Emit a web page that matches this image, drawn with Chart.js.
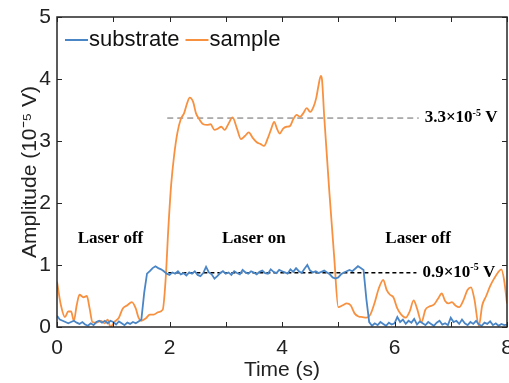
<!DOCTYPE html>
<html>
<head>
<meta charset="utf-8">
<script src="https://cdn.jsdelivr.net/npm/chart.js@4/dist/chart.umd.min.js"></script>
<style>
  html, body { margin: 0; padding: 0; background: #fff; }
  #wrap { width: 509px; height: 383px; }
</style>
</head>
<body>
<div id="wrap"><canvas id="ampChart"></canvas></div>
<script>
// substrate signal, sampled every 0.05 s from 0 to 8 s
const substrateStep = 0.05;
const substrateAmp = [
  0.18, 0.12, 0.10, 0.08, 0.06, 0.08, 0.10, 0.07, 0.05, 0.08, 0.04, 0.02, 0.06, 0.03, 0.08, 0.10, 0.07, 0.10, 0.06, 0.10,
  0.08, 0.04, 0.09, 0.06, 0.03, 0.07, 0.05, 0.08, 0.06, 0.09, 0.12, 0.55, 0.86, 0.90, 0.95, 0.98, 0.95, 0.93, 0.90, 0.86,
  0.84, 0.88, 0.86, 0.90, 0.85, 0.87, 0.83, 0.88, 0.86, 0.90, 0.84, 0.82, 0.87, 0.97, 0.88, 0.85, 0.78, 0.82, 0.87, 0.90,
  0.86, 0.88, 0.84, 0.90, 0.87, 0.85, 0.92, 0.88, 0.86, 0.90, 0.88, 0.85, 0.89, 0.91, 0.87, 0.86, 0.93, 0.89, 0.87, 0.92,
  0.90, 0.88, 0.86, 0.93, 0.89, 0.95, 0.90, 0.87, 0.94, 1.00, 0.91, 0.88, 0.90, 0.87, 0.89, 0.91, 0.88, 0.85, 0.80, 0.78,
  0.80, 0.85, 0.88, 0.90, 0.92, 0.90, 0.94, 0.98, 0.95, 0.92, 0.45, 0.08, 0.02, 0.06, 0.03, 0.08, 0.05, 0.02, 0.07, 0.04,
  0.06, 0.16, 0.08, 0.12, 0.05, 0.10, 0.07, 0.13, 0.04, 0.09, 0.06, 0.03, 0.08, 0.05, 0.02, 0.07, 0.10, 0.04, 0.06, 0.03,
  0.15, 0.08, 0.10, 0.05, 0.12, 0.06, 0.03, 0.08, 0.05, 0.10, 0.04, 0.02, 0.07, 0.05, 0.09, 0.03, 0.06, 0.02, 0.05, 0.03,
  0.04
];

// sample signal (smoothed), irregular time points
const sampleTime = [
  0, 0.07, 0.14, 0.2, 0.25, 0.3, 0.35, 0.4, 0.47, 0.53, 0.58, 0.63, 0.7, 0.78, 0.85, 0.9, 0.95, 1.02, 1.1, 1.17,
  1.25, 1.33, 1.4, 1.45, 1.5, 1.58, 1.65, 1.72, 1.8, 1.88, 1.93, 1.98, 2.03, 2.08, 2.14, 2.2, 2.26, 2.31, 2.36, 2.42,
  2.47, 2.53, 2.6, 2.67, 2.73, 2.8, 2.86, 2.92, 2.98, 3.05, 3.12, 3.2, 3.27, 3.34, 3.41, 3.48, 3.55, 3.62, 3.68, 3.75,
  3.81, 3.86, 3.91, 3.96, 4.02, 4.08, 4.14, 4.2, 4.26, 4.32, 4.38, 4.44, 4.5, 4.56, 4.61, 4.65, 4.69, 4.71, 4.75, 4.84,
  4.93, 5.0, 5.08, 5.15, 5.22, 5.29, 5.36, 5.43, 5.5, 5.57, 5.65, 5.72, 5.8, 5.86, 5.92, 5.98, 6.05, 6.12, 6.2, 6.27,
  6.34, 6.4, 6.48, 6.55, 6.62, 6.7, 6.77, 6.84, 6.9, 6.96, 7.02, 7.08, 7.15, 7.22, 7.3, 7.36, 7.42, 7.5, 7.56, 7.63,
  7.7, 7.77, 7.84, 7.9, 7.95, 8.0
];
const sampleAmp = [
  0.73, 0.35, 0.16, 0.25, 0.25, 0.10, 0.35, 0.52, 0.48, 0.50, 0.30, 0.08, 0.07, 0.10, 0.06, 0.12, 0.00, 0.08, 0.15, 0.30,
  0.35, 0.40, 0.30, 0.15, 0.10, 0.14, 0.20, 0.20, 0.24, 0.28, 0.75, 1.60, 2.30, 2.75, 3.13, 3.35, 3.45, 3.60, 3.70, 3.63,
  3.45, 3.35, 3.27, 3.26, 3.27, 3.18, 3.20, 3.23, 3.18, 3.28, 3.38, 3.20, 3.03, 3.08, 3.14, 3.05, 2.98, 2.95, 2.92, 3.05,
  3.20, 3.31, 3.20, 3.12, 3.20, 3.23, 3.24, 3.35, 3.42, 3.39, 3.45, 3.53, 3.47, 3.55, 3.70, 3.90, 4.05, 4.00, 3.40, 2.20,
  1.10, 0.32, 0.35, 0.38, 0.35, 0.22, 0.17, 0.16, 0.15, 0.20, 0.40, 0.62, 0.76, 0.60, 0.52, 0.48, 0.30, 0.20, 0.15, 0.25,
  0.43, 0.30, 0.08, 0.28, 0.33, 0.36, 0.45, 0.54, 0.42, 0.38, 0.40, 0.35, 0.32, 0.42, 0.60, 0.64, 0.45, 0.02, 0.35, 0.50,
  0.66, 0.78, 0.88, 0.93, 0.75, 0.38
];

// mean levels with the laser on
const sampleLevel = { from: 1.96, to: 6.43, value: 3.37, label: '3.3×10', exp: '-5', unit: ' V' };
const substrateLevel = { from: 1.98, to: 6.39, value: 0.876, label: '0.9×10', exp: '-5', unit: ' V' };

const regionLabels = ['Laser off', 'Laser on', 'Laser off'];
const regionX = [0.95, 3.5, 6.42];
const regionY = 1.43;

const xTicks = [0, 2, 4, 6, 8];
const yTicks = [0, 1, 2, 3, 4, 5];

const BLUE = '#4a86c6';
const ORANGE = '#f8913f';
const AXIS = '#262626';
const SANS = '"Liberation Sans", Arial';

const substratePts = substrateAmp.map((v, i) => ({ x: +(i * substrateStep).toFixed(2), y: v }));
const samplePts = sampleTime.map((t, i) => ({ x: t, y: sampleAmp[i] }));

// drop the label overhang so the plot box reaches the canvas edges
function noOverhang(s) {
  s.paddingLeft = 0;
  s.paddingRight = 0;
  s.paddingTop = 0;
  s.paddingBottom = 0;
}

// full box with inward ticks, legend and the level annotations
const framePlugin = {
  id: 'frame',
  afterDatasetsDraw(chart) {
    const { ctx, chartArea: a, scales: { x, y } } = chart;
    ctx.save();
    ctx.strokeStyle = AXIS;
    ctx.lineWidth = 1.5;
    ctx.strokeRect(a.left, a.top, a.right - a.left, a.bottom - a.top);
    ctx.lineWidth = 1;
    const tl = 5;
    for (let t = 0; t <= 8; t++) {
      const px = Math.round(x.getPixelForValue(t)) + 0.5;
      ctx.beginPath();
      ctx.moveTo(px, a.bottom); ctx.lineTo(px, a.bottom - tl);
      ctx.moveTo(px, a.top); ctx.lineTo(px, a.top + tl);
      ctx.stroke();
    }
    for (let v = 0; v <= 5; v++) {
      const py = Math.round(y.getPixelForValue(v)) + 0.5;
      ctx.beginPath();
      ctx.moveTo(a.left, py); ctx.lineTo(a.left + tl, py);
      ctx.moveTo(a.right, py); ctx.lineTo(a.right - tl, py);
      ctx.stroke();
    }

    // legend inside the top-left corner
    ctx.font = '22px ' + SANS;
    ctx.textBaseline = 'middle';
    let lx = a.left + 8;
    const ly = a.top + 23;
    chart.data.datasets.slice(0, 2).forEach(ds => {
      ctx.strokeStyle = ds.borderColor;
      ctx.lineWidth = 2;
      ctx.beginPath();
      ctx.moveTo(lx, ly); ctx.lineTo(lx + 23, ly);
      ctx.stroke();
      lx += 24;
      ctx.fillStyle = '#111';
      ctx.fillText(ds.label, lx, ly);
      lx += ctx.measureText(ds.label).width + 6;
    });

    // level labels
    ctx.fillStyle = '#000';
    [sampleLevel, substrateLevel].forEach(l => {
      let px = x.getPixelForValue(l.to) + 6;
      const py = y.getPixelForValue(l.value);
      ctx.font = 'bold 17px "Liberation Serif"';
      ctx.fillText(l.label, px, py);
      px += ctx.measureText(l.label).width;
      ctx.font = 'bold 10px "Liberation Serif"';
      ctx.fillText(l.exp, px, py - 5);
      px += ctx.measureText(l.exp).width;
      ctx.font = 'bold 17px "Liberation Serif"';
      ctx.fillText(l.unit, px, py);
    });

    ctx.textAlign = 'center';
    ctx.font = 'bold 17px "Liberation Serif"';
    regionLabels.forEach((s, i) => {
      ctx.fillText(s, x.getPixelForValue(regionX[i]), y.getPixelForValue(regionY));
    });
    ctx.restore();
  }
};

new Chart(document.getElementById('ampChart'), {
  type: 'line',
  data: {
    datasets: [
      {
        label: 'substrate',
        data: substratePts,
        borderColor: BLUE,
        borderWidth: 1.8,
        pointRadius: 0,
        tension: 0
      },
      {
        label: 'sample',
        data: samplePts,
        borderColor: ORANGE,
        borderWidth: 1.8,
        pointRadius: 0,
        cubicInterpolationMode: 'monotone'
      },
      {
        label: 'sampleLevel',
        data: [{ x: sampleLevel.from, y: sampleLevel.value }, { x: sampleLevel.to, y: sampleLevel.value }],
        borderColor: '#666',
        borderWidth: 1,
        borderDash: [6, 4],
        pointRadius: 0
      },
      {
        label: 'substrateLevel',
        data: [{ x: substrateLevel.from, y: substrateLevel.value }, { x: substrateLevel.to, y: substrateLevel.value }],
        borderColor: '#000',
        borderWidth: 1.5,
        borderDash: [4, 3],
        pointRadius: 0
      }
    ]
  },
  options: {
    responsive: true,
    maintainAspectRatio: false,
    animation: false,
    layout: { autoPadding: false, padding: { top: 17, right: 2, left: 0, bottom: 0 } },
    plugins: {
      legend: { display: false },
      tooltip: { enabled: false }
    },
    scales: {
      x: {
        type: 'linear',
        min: 0,
        max: 8,
        afterBuildTicks: s => { s.ticks = xTicks.map(v => ({ value: v })); },
        afterFit: s => { s.height = 56; noOverhang(s); },
        grid: { display: false, drawTicks: false },
        border: { display: false },
        ticks: {
          padding: 9,
          color: '#222',
          font: { family: SANS, size: 21 },
          maxRotation: 0
        },
        title: {
          display: true,
          text: 'Time (s)',
          color: '#222',
          padding: { top: 2, bottom: 0 },
          font: { family: SANS, size: 21 }
        }
      },
      y: {
        min: 0,
        max: 5,
        afterBuildTicks: s => { s.ticks = yTicks.map(v => ({ value: v })); },
        afterFit: s => { s.width = 57; noOverhang(s); },
        grid: { display: false, drawTicks: false },
        border: { display: false },
        ticks: {
          padding: 6,
          color: '#222',
          font: { family: SANS, size: 21 }
        },
        title: {
          display: true,
          text: 'Amplitude (10⁻⁵ V)',
          color: '#222',
          padding: { top: 18, bottom: 0 },
          font: { family: SANS, size: 21 }
        }
      }
    }
  },
  plugins: [framePlugin]
});
</script>
</body>
</html>
